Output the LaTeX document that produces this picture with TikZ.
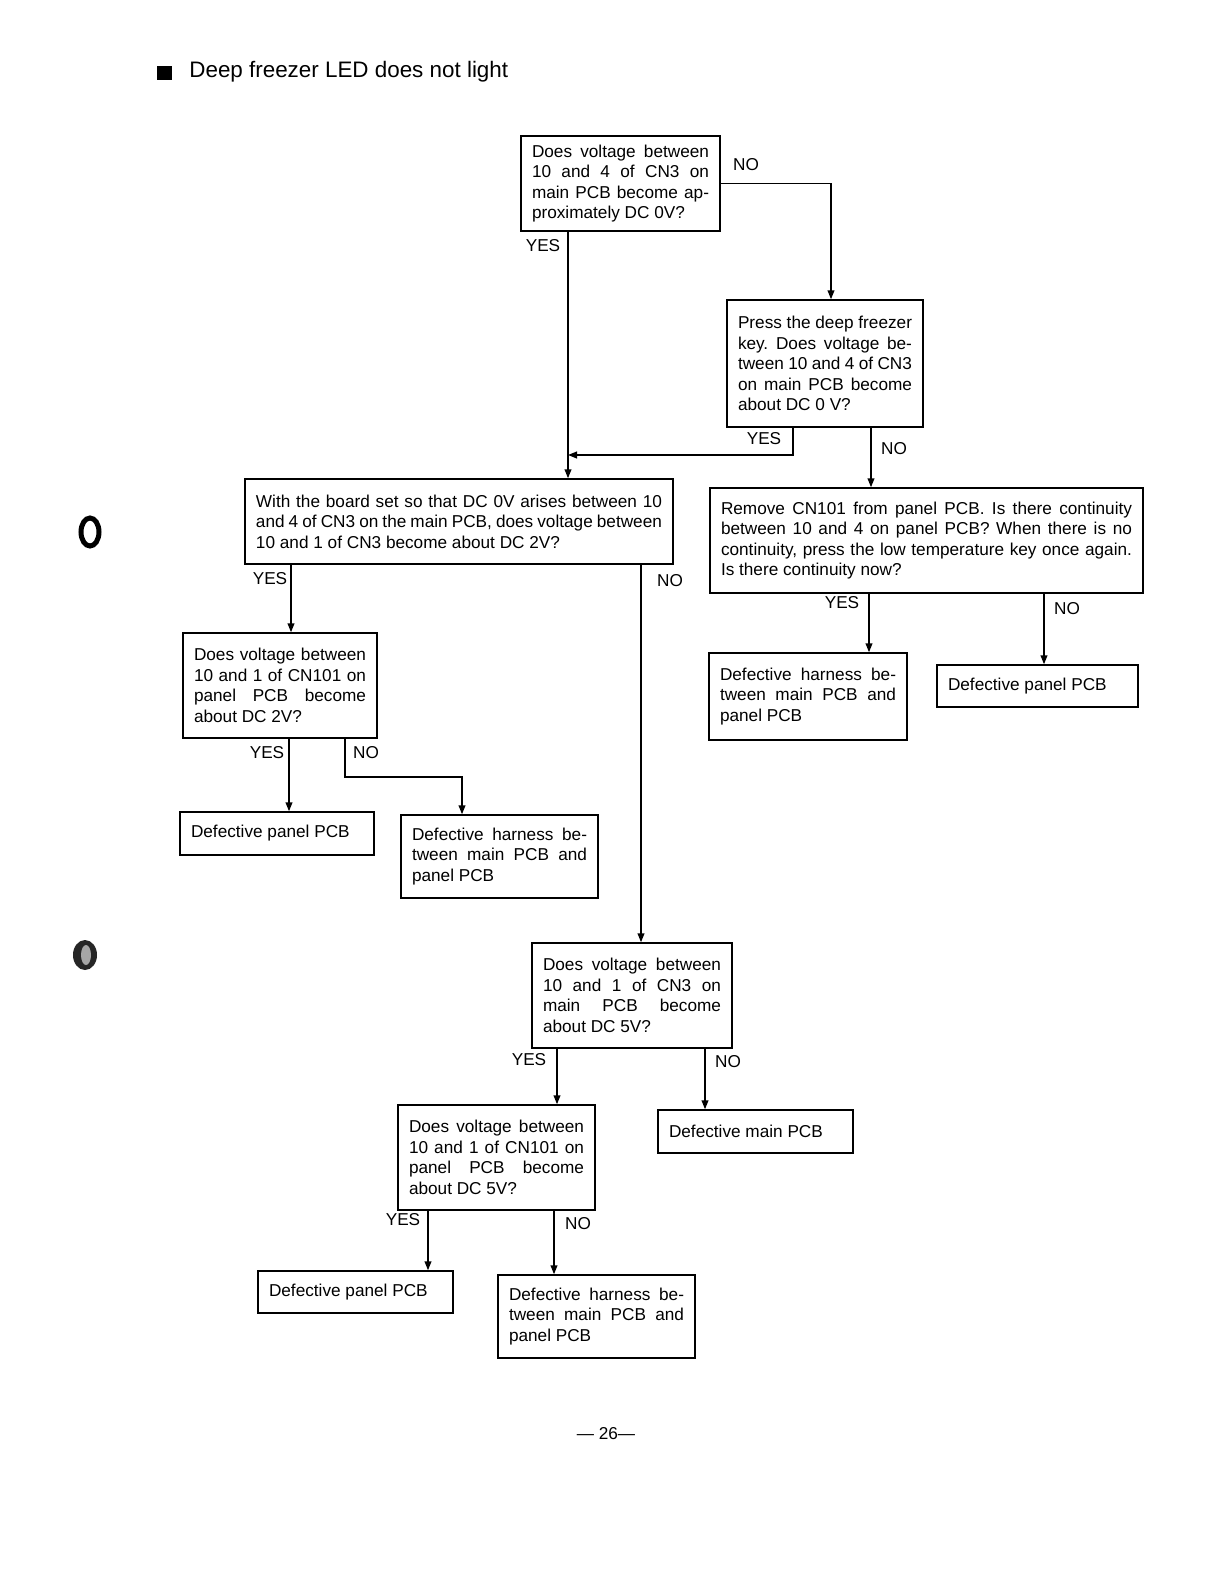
\documentclass[tikz,border=0pt]{standalone}
\usepackage{fontspec}
\setmainfont{Liberation Sans}
\usetikzlibrary{arrows.meta}
\newcommand\jline[1]{{\spaceskip=0pt\xspaceskip=0pt\makebox[\hsize][s]{#1}}}
\newcommand\flowbox[6]{%
  \pgfmathsetmacro\fcw{(#4-22)/2}%
  \pgfmathsetmacro\fch{#5/2}%
  \node[fcnode, text width=\fcw bp, minimum height=\fch bp] (#1) at ({#2+#4/2},{#3+#5/2}) {#6};}
\tikzset{
  fcnode/.style={draw, line width=0.75bp, inner xsep=5.5bp, inner ysep=2bp, align=justify,
    font=\fontsize{8.6bp}{10.3bp}\selectfont\frenchspacing},
  arr/.style={line width=0.75bp, -{Triangle[length=4.5bp,width=3.4bp]}},
  lab/.style={inner sep=0pt, font=\fontsize{8.6bp}{10.3bp}\selectfont},
}
\begin{document}
\begin{tikzpicture}[x=0.5bp,y=-0.5bp]
\useasboundingbox (0,0) rectangle (1224,1584);
% title
\fill (157,66) rectangle (172,80);
\node[anchor=base west, inner sep=0pt, font=\fontsize{11.2bp}{13bp}\selectfont] (title) at (189,77) {Deep freezer LED does not light};
% punched holes
\draw[line width=2.5bp] (90,532) ellipse [x radius=4.5bp, y radius=7bp];
\fill[black!85] (85,955) ellipse [x radius=6bp, y radius=7.5bp];
\fill[black!35] (86,955) ellipse [x radius=2.5bp, y radius=5bp];
% boxes
\flowbox{A}{521}{136}{199}{95}{\jline{Does voltage between}\\\jline{10 and 4 of CN3 on}\\\jline{main PCB become ap-}\\proximately DC 0V?}
\flowbox{B}{727}{300}{196}{127}{\jline{Press the deep freezer}\\\jline{key. Does voltage be-}\\\jline{tween 10 and 4 of CN3}\\\jline{on main PCB become}\\about DC 0 V?}
\flowbox{C}{245}{479}{428}{85}{\jline{With the board set so that DC 0V arises between 10}\\\jline{and 4 of CN3 on the main PCB, does voltage between}\\10 and 1 of CN3 become about DC 2V?}
\flowbox{D}{710}{488}{433}{105}{\jline{Remove CN101 from panel PCB. Is there continuity}\\\jline{between 10 and 4 on panel PCB? When there is no}\\\jline{continuity, press the low temperature key once again.}\\Is there continuity now?}
\flowbox{E}{183}{633}{194}{105}{\jline{Does voltage between}\\\jline{10 and 1 of CN101 on}\\\jline{panel PCB become}\\about DC 2V?}
\flowbox{F}{709}{653}{198}{87}{\jline{Defective harness be-}\\\jline{tween main PCB and}\\panel PCB}
\flowbox{G}{937}{665}{201}{42}{Defective panel PCB}
\flowbox{H}{180}{812}{194}{43}{Defective panel PCB}
\flowbox{I}{401}{815}{197}{83}{\jline{Defective harness be-}\\\jline{tween main PCB and}\\panel PCB}
\flowbox{J}{532}{943}{200}{105}{\jline{Does voltage between}\\\jline{10 and 1 of CN3 on}\\\jline{main PCB become}\\about DC 5V?}
\flowbox{K}{398}{1105}{197}{105}{\jline{Does voltage between}\\\jline{10 and 1 of CN101 on}\\\jline{panel PCB become}\\about DC 5V?}
\flowbox{L}{658}{1110}{195}{43}{Defective main PCB}
\flowbox{M}{258}{1271}{195}{42}{Defective panel PCB}
\flowbox{N}{498}{1275}{197}{83}{\jline{Defective harness be-}\\\jline{tween main PCB and}\\panel PCB}
% connectors
\coordinate (j1) at (568,455);
\draw[arr] (A.east) -| (831,0 |- B.north);
\draw[arr] (568,0 |- A.south) -- (568,0 |- C.north);
\draw[arr] (793,0 |- B.south) |- (j1);
\draw[arr] (871,0 |- B.south) -- (871,0 |- D.north);
\draw[arr] (291,0 |- C.south) -- (291,0 |- E.north);
\draw[arr] (641,0 |- C.south) -- (641,0 |- J.north);
\draw[arr] (869,0 |- D.south) -- (869,0 |- F.north);
\draw[arr] (1044,0 |- D.south) -- (1044,0 |- G.north);
\draw[arr] (289,0 |- E.south) -- (289,0 |- H.north);
\draw[arr] (345,0 |- E.south) |- (462,777) -- (462,0 |- I.north);
\draw[arr] (557,0 |- J.south) -- (557,0 |- K.north);
\draw[arr] (705,0 |- J.south) -- (705,0 |- L.north);
\draw[arr] (428,0 |- K.south) -- (428,0 |- M.north);
\draw[arr] (554,0 |- K.south) -- (554,0 |- N.north);
% labels
\node[lab] (lAn) at (746,165) {NO};
\node[lab] (lAy) at (543,246) {YES};
\node[lab] (lBy) at (764,439) {YES};
\node[lab] (lBn) at (894,449) {NO};
\node[lab] (lCy) at (270,579) {YES};
\node[lab] (lCn) at (670,581) {NO};
\node[lab] (lDy) at (842,603) {YES};
\node[lab] (lDn) at (1067,609) {NO};
\node[lab] (lEy) at (267,753) {YES};
\node[lab] (lEn) at (366,753) {NO};
\node[lab] (lJy) at (529,1060) {YES};
\node[lab] (lJn) at (728,1062) {NO};
\node[lab] (lKy) at (403,1220) {YES};
\node[lab] (lKn) at (578,1224) {NO};
% page number
\node[lab] (page) at (606,1434) {— 26—};
\end{tikzpicture}
\end{document}
